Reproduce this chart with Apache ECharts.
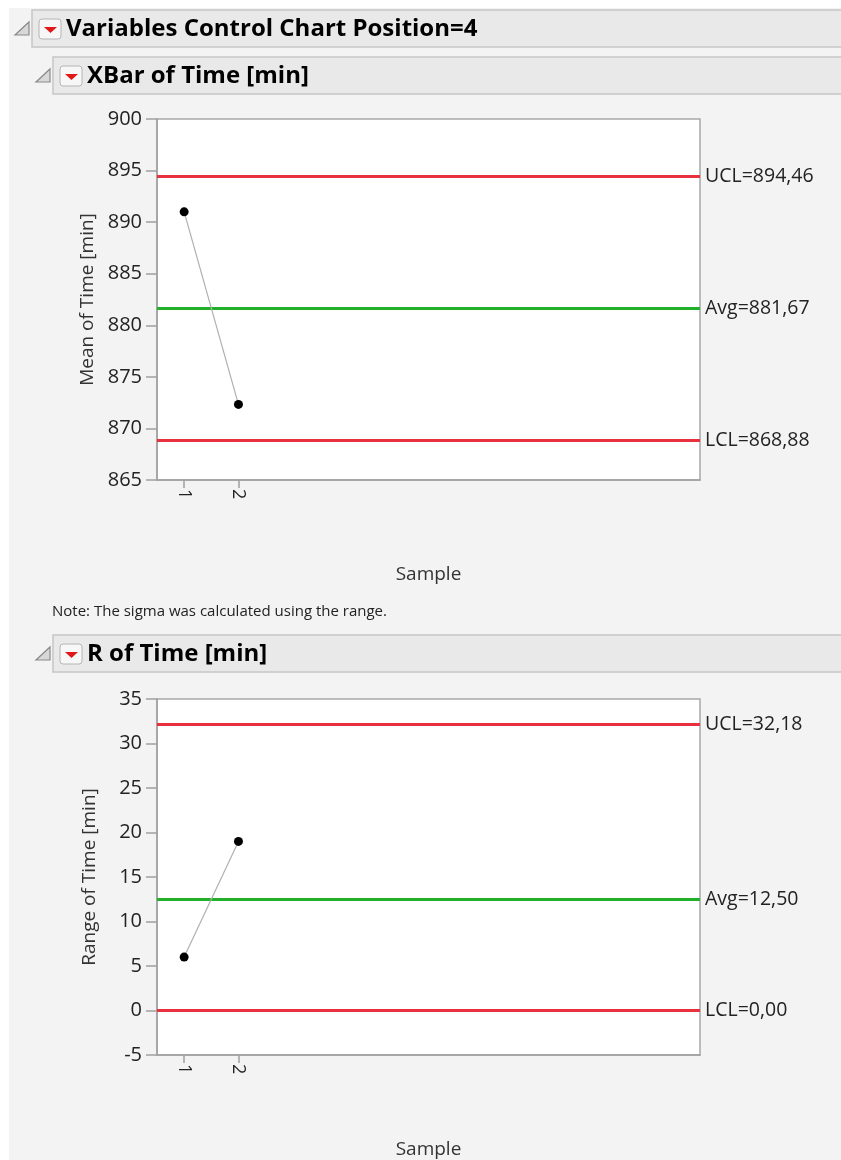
<!DOCTYPE html>
<html>
<head>
<meta charset="utf-8">
<script src="https://cdn.jsdelivr.net/npm/echarts@6/dist/echarts.min.js"></script>
<style>
html,body{margin:0;padding:0;background:#fff;}
#chart{width:841px;height:1160px;}
</style>
</head>
<body>
<div id="chart"></div>
<script>
// ---- data ----
const samples = ['1', '2'];
const xSlots = ['1', '2', '', '', '', '', '', '', '', ''];
const xbarValues = [891.0, 872.33];
const rangeValues = [6.0, 19.0];
const xbarLimits = [
  { name: 'UCL', value: 894.46 },
  { name: 'Avg', value: 881.67 },
  { name: 'LCL', value: 868.88 }
];
const rLimits = [
  { name: 'UCL', value: 32.18 },
  { name: 'Avg', value: 12.50 },
  { name: 'LCL', value: 0.00 }
];
const xbarTicks = { min: 865, max: 900, interval: 5 };
const rTicks = { min: -5, max: 35, interval: 5 };

const FONT = '"Open Sans", "Noto Sans", sans-serif';
const RED = '#e8303f';
const GREEN = '#22b02a';

const chart = echarts.init(document.getElementById('chart'), null, { renderer: 'canvas' });

function fmt(v) { return v.toFixed(2).replace('.', ','); }

function limitLines(limits) {
  return {
    silent: true,
    symbol: 'none',
    animation: false,
    data: limits.map(l => ({
      yAxis: l.value,
      name: l.name,
      lineStyle: { color: l.name === 'Avg' ? GREEN : RED, width: 3, type: 'solid' },
      label: {
        show: true, position: 'end', distance: 5,
        formatter: l.name + '=' + fmt(l.value),
        color: '#222', fontSize: 19.5, fontFamily: FONT
      }
    }))
  };
}

function header(x, y, w, h, text) {
  return [
    { type: 'rect', shape: { x: x, y: y, width: w, height: h },
      style: { fill: '#e9e9e9', stroke: '#c6c6c6', lineWidth: 1.5 } },
    { type: 'polygon', shape: { points: [[x - 3, y + 12], [x - 3, y + 25], [x - 17, y + 25]] },
      style: { fill: '#d8d8d8', stroke: '#8a8a8a', lineWidth: 1.2 } },
    { type: 'rect', shape: { x: x + 7, y: y + 9, width: 22, height: 20, r: 3 },
      style: { fill: '#f7f7f7', stroke: '#b5b5b5', lineWidth: 1 } },
    { type: 'polygon', shape: { points: [[x + 12, y + 17], [x + 25, y + 17], [x + 18.5, y + 23]] },
      style: { fill: '#e01818' } },
    { type: 'text', x: x + 34, y: y + h / 2 + 1,
      style: { text: text, fill: '#000', font: 'bold 24px ' + FONT, textVerticalAlign: 'middle' } }
  ];
}

function yAxisCfg(grid, ticks, name) {
  return {
    type: 'value', gridIndex: grid,
    min: ticks.min, max: ticks.max, interval: ticks.interval,
    name: name, nameLocation: 'middle', nameGap: 58,
    nameTextStyle: { color: '#333', fontSize: 19, fontFamily: FONT },
    axisLine: { show: true, lineStyle: { color: '#a0a0a0', width: 1.5 } },
    axisTick: { show: true, length: 11, lineStyle: { color: '#a0a0a0', width: 1.5 } },
    axisLabel: { color: '#222', fontSize: 20, fontFamily: FONT, margin: 15 },
    splitLine: { show: false }
  };
}

function xAxisCfg(grid) {
  return {
    type: 'category', gridIndex: grid, data: xSlots, boundaryGap: true,
    name: 'Sample', nameLocation: 'middle', nameGap: 85,
    nameTextStyle: { color: '#333', fontSize: 19, fontFamily: FONT },
    axisLine: { show: true, onZero: false, lineStyle: { color: '#a0a0a0', width: 1.5 } },
    axisTick: { show: true, alignWithLabel: true, length: 8,
      interval: (i) => i < samples.length,
      lineStyle: { color: '#a0a0a0', width: 1.5 } },
    axisLabel: { interval: 0, rotate: -90, color: '#222', fontSize: 18, fontFamily: FONT, margin: 9 },
    splitLine: { show: false }
  };
}

function pointSeries(x, y, values, limits) {
  return {
    type: 'line', xAxisIndex: x, yAxisIndex: y,
    data: values.map((v, i) => [samples[i], v]),
    symbol: 'circle', symbolSize: 9,
    itemStyle: { color: '#000' },
    lineStyle: { color: '#b0b0b0', width: 1.2 },
    markLine: limitLines(limits),
    z: 5
  };
}

const option = {
  animation: false,
  backgroundColor: '#fff',
  graphic: [
    { type: 'rect', z: -10, shape: { x: 9, y: 8, width: 832, height: 1152 }, style: { fill: '#f3f3f3' } },
    ...header(32, 10, 815, 37, 'Variables Control Chart Position=4'),
    ...header(53, 57, 795, 37, 'XBar of Time [min]'),
    ...header(53, 635, 795, 37, 'R of Time [min]'),
    { type: 'text', x: 52, y: 612,
      style: { text: 'Note: The sigma was calculated using the range.', fill: '#222',
        font: '15px ' + FONT, textVerticalAlign: 'middle' } }
  ],
  grid: [
    { left: 157, top: 119, width: 543, height: 361, show: true, backgroundColor: '#fff',
      borderColor: '#a8a8a8', borderWidth: 1.5 },
    { left: 157, top: 699, width: 543, height: 360, show: true, backgroundColor: '#fff',
      borderColor: '#a8a8a8', borderWidth: 1.5 }
  ],
  xAxis: [xAxisCfg(0), xAxisCfg(1)],
  yAxis: [yAxisCfg(0, xbarTicks, 'Mean of Time [min]'), yAxisCfg(1, rTicks, 'Range of Time [min]')],
  series: [
    pointSeries(0, 0, xbarValues, xbarLimits),
    pointSeries(1, 1, rangeValues, rLimits)
  ]
};
chart.setOption(option);
</script>
</body>
</html>
